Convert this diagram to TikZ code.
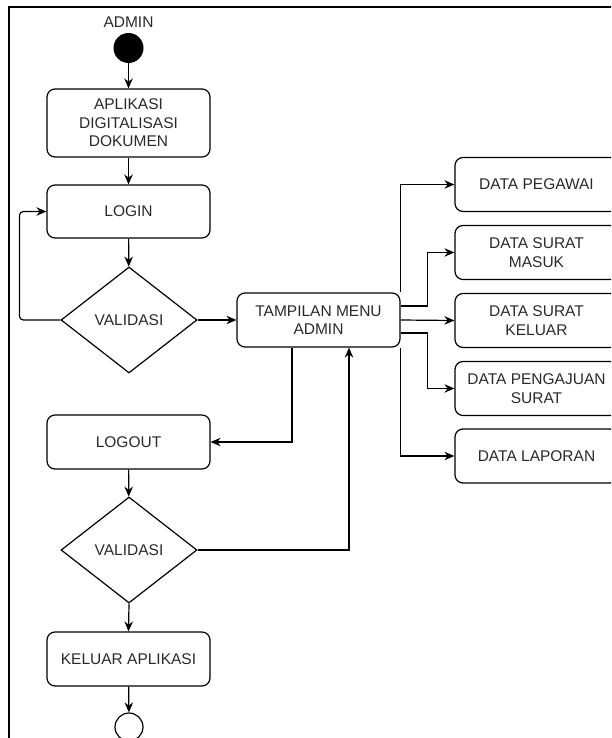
\documentclass[tikz,border=0pt]{standalone}
\usepackage{fontspec}
\setmainfont{Liberation Sans}
\usetikzlibrary{shapes.geometric,arrows.meta}
\definecolor{txt}{HTML}{2A2A2A}
\begin{document}
\begin{tikzpicture}[x=1pt,y=-1pt,
  every node/.style={font=\fontsize{15.5}{18.5}\selectfont, text=txt},
  act/.style={draw, line width=1.2pt, rounded corners=8pt, minimum width=163pt, minimum height=54pt, inner sep=2pt, align=center},
  dec/.style={draw, line width=1.2pt, diamond, minimum width=136pt, minimum height=106pt, inner sep=0pt},
  arr/.style={line width=1.2pt, -{Stealth[length=10pt,width=8.5pt]}},
  ln/.style={line width=1.6pt}]
\useasboundingbox (0,0) rectangle (611,738);
\clip (0,0) rectangle (611,738);
\draw[ln] (9,760) -- (9,7) -- (640,7);
\node (admin) at (128.5,22) {ADMIN};
\node[circle, fill=black, minimum size=30pt, inner sep=0pt] (start) at (128.5,48) {};
\node[act, minimum height=68pt] (app) at (128.5,123) {APLIKASI\\DIGITALISASI\\DOKUMEN};
\node[act, minimum height=53pt] (login) at (128.5,211.5) {LOGIN};
\node[dec] (v1) at (129,320) {VALIDASI};
\node[act] (tam) at (318.5,320) {TAMPILAN MENU\\ADMIN};
\node[act] (peg) at (536.5,184.5) {DATA PEGAWAI};
\node[act] (mas) at (536.5,252.5) {DATA SURAT\\MASUK};
\node[act] (kel) at (536.5,320.5) {DATA SURAT\\KELUAR};
\node[act] (pen) at (536.5,388.5) {DATA PENGAJUAN\\SURAT};
\node[act] (lap) at (536.5,456) {DATA LAPORAN};
\node[act] (logout) at (128.5,442) {LOGOUT};
\node[dec] (v2) at (129,550) {VALIDASI};
\node[act] (exit) at (128.5,659) {KELUAR APLIKASI};
\node[circle, draw, line width=1.2pt, minimum size=28pt, inner sep=0pt] (end) at (129,727) {};
\draw[arr] (start) -- (app);
\draw[arr] (app) -- (login);
\draw[arr] (login) -- (v1);
\draw[arr, rounded corners=4pt] (v1.west) -- ++(-41,0) |- (login.west);
\draw[arr] (v1.east) -- (tam.west);
\draw[arr] (tam.north east) |- (peg.west);
\draw[arr] ([yshift=14pt]tam.east) -- ++(27,0) |- (mas.west);
\draw[arr] (tam.east) -- (kel.west);
\draw[arr] ([yshift=-13pt]tam.east) -- ++(27,0) |- (pen.west);
\draw[arr] (tam.south east) |- (lap.west);
\draw[arr] ([xshift=-26.5pt]tam.south) |- (logout.east);
\draw[arr] (logout) -- (v2);
\draw[arr] (v2.east) -| ([xshift=30.5pt]tam.south);
\draw[arr] (v2.south) -- (exit.north);
\draw[arr] (exit) -- (end);
\end{tikzpicture}
\end{document}
